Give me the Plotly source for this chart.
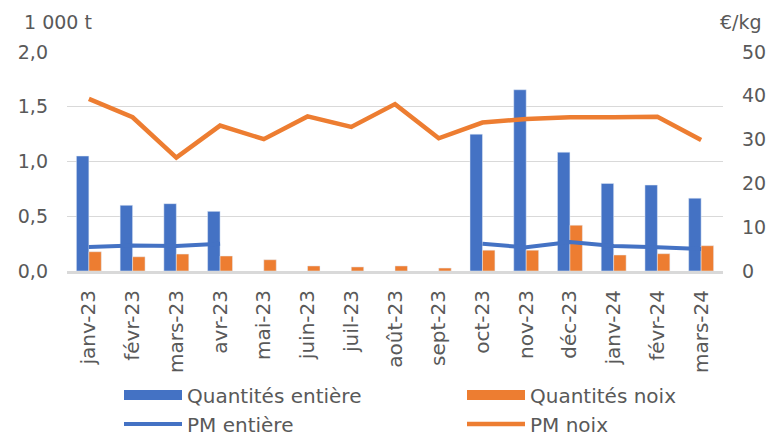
import plotly.graph_objects as go

months = ["janv-23", "févr-23", "mars-23", "avr-23", "mai-23", "juin-23", "juil-23",
          "août-23", "sept-23", "oct-23", "nov-23", "déc-23", "janv-24", "févr-24", "mars-24"]

# Quantités (1 000 t)
qty_entiere = [1.05, 0.60, 0.615, 0.545, None, None, None, None, None,
               1.25, 1.655, 1.085, 0.80, 0.785, 0.665]
qty_noix = [0.176, 0.13, 0.155, 0.137, 0.103, 0.046, 0.037, 0.046, 0.027,
            0.19, 0.19, 0.418, 0.146, 0.158, 0.231]

# Prix moyens (€/kg)
pm_entiere = [5.5, 5.8, 5.7, 6.2, None, None, None, None, None,
              6.2, 5.4, 6.6, 5.7, 5.4, 5.0]
pm_noix = [39.3, 35.1, 25.9, 33.2, 30.1, 35.3, 32.9, 38.1, 30.3,
           33.9, 34.7, 35.1, 35.1, 35.2, 29.9]

BLUE = "#4472C4"
ORANGE = "#ED7D31"
TXT = "#595959"
GRID = "#D9D9D9"
FONT = "DejaVu Sans"

fig = go.Figure()
fig.add_trace(go.Bar(x=months, y=qty_entiere, name="Quantités entière",
                     marker_color=BLUE, yaxis="y", showlegend=False))
fig.add_trace(go.Bar(x=months, y=qty_noix, name="Quantités noix",
                     marker_color=ORANGE, yaxis="y", showlegend=False))
# legend entries for the bar series (wide swatches)
fig.add_trace(go.Scatter(x=[None], y=[None], name="Quantités entière", mode="lines",
                         line=dict(color=BLUE, width=13), legend="legend",
                         hoverinfo="skip"))
fig.add_trace(go.Scatter(x=[None], y=[None], name="Quantités noix", mode="lines",
                         line=dict(color=ORANGE, width=13), legend="legend2",
                         hoverinfo="skip"))
fig.add_trace(go.Scatter(x=months, y=pm_entiere, name="PM entière", mode="lines",
                         line=dict(color=BLUE, width=4), yaxis="y2",
                         connectgaps=False, legend="legend3"))
fig.add_trace(go.Scatter(x=months, y=pm_noix, name="PM noix", mode="lines",
                         line=dict(color=ORANGE, width=4.5), yaxis="y2",
                         legend="legend4"))

def leg(xp, yp):
    return dict(orientation="v", x=xp, xanchor="left", y=yp, yanchor="middle",
                font=dict(size=20, color=TXT), bgcolor="rgba(0,0,0,0)",
                itemwidth=58, visible=True)

# page has an 8px body margin: figure is 772x431, offset by 8px
col1 = (111 - 59) / 656
col2 = (454 - 59) / 656
row1 = (263 - 387) / 219
row2 = (263 - 416) / 219

fig.update_layout(
    width=772, height=431,
    margin=dict(l=59, r=57, t=44, b=168, autoexpand=False),
    paper_bgcolor="white", plot_bgcolor="white",
    font=dict(family=FONT, size=19, color=TXT),
    separators=", ",
    showlegend=True,
    barmode="group", bargap=0.43, bargroupgap=0,
    xaxis=dict(type="category", tickangle=-90, showgrid=False, automargin=False,
               showline=True, linecolor=GRID, linewidth=3,
               ticks="", ticklabelstandoff=8, tickfont=dict(size=20)),
    yaxis=dict(range=[0, 2.0], tickvals=[0, 0.5, 1.0, 1.5, 2.0], tickformat=".1f",
               showgrid=True, gridcolor=GRID, gridwidth=1.3, zeroline=False,
               automargin=False,
               ticks="", ticklabelstandoff=18, tickfont=dict(size=19)),
    yaxis2=dict(range=[0, 50], tickvals=[0, 10, 20, 30, 40, 50], overlaying="y",
                side="right", showgrid=False, zeroline=False, ticks="",
                automargin=False,
                ticklabelstandoff=18, tickfont=dict(size=19)),
    legend=leg(col1, row1),
    legend2=leg(col2, row1),
    legend3=leg(col1, row2),
    legend4=leg(col2, row2),
    annotations=[
        dict(text="1 000 t", xref="paper", yref="paper", x=-0.069, y=1.137,
             xanchor="left", yanchor="middle", showarrow=False,
             font=dict(size=19, color=TXT)),
        dict(text="€/kg", xref="paper", yref="paper", x=1.0625, y=1.137,
             xanchor="right", yanchor="middle", showarrow=False,
             font=dict(size=19, color=TXT)),
    ],
)

fig.write_html("out.html")
